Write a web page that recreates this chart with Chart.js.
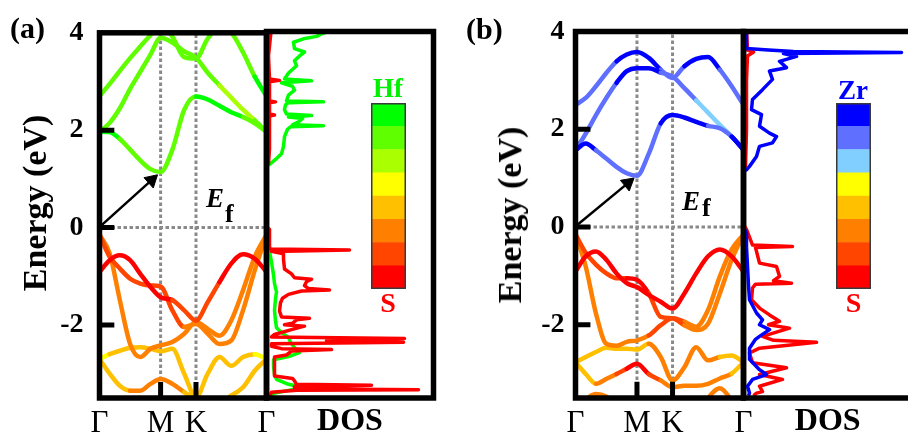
<!DOCTYPE html>
<html>

<head>
    <meta charset="UTF-8">
    <title>HfS2 / ZrS2 band structure and DOS</title>
    <script src="https://cdn.jsdelivr.net/npm/chart.js"></script>
    <style>
        body {
            margin: 0;
            width: 908px;
            height: 437px;
            overflow: hidden;
            position: relative;
            background: #ffffff;
            font-family: 'Liberation Serif', 'Times New Roman', serif;
        }

        canvas {
            position: absolute;
        }

        .lbl {
            position: absolute;
            font-weight: bold;
            line-height: 1;
            white-space: nowrap;
            color: #000;
        }

        .ytitle {
            font-size: 34px;
            transform: translate(-50%, -50%) rotate(-90deg);
        }

        .cb {
            width: 60px;
            text-align: center;
            font-size: 27px;
        }
    </style>
</head>

<body>
    <canvas id="bandA" width="290" height="437" style="left:0;top:0"></canvas>
    <canvas id="dosA" width="175" height="437" style="left:262px;top:0"></canvas>
    <canvas id="barA" width="35" height="186" style="left:371px;top:103px"></canvas>
    <canvas id="bandB" width="300" height="437" style="left:460px;top:0"></canvas>
    <canvas id="dosB" width="180" height="437" style="left:739px;top:0"></canvas>
    <canvas id="barB" width="35" height="186" style="left:836px;top:103px"></canvas>

    <div class="lbl" style="left:10px;top:13px;font-size:30px">(a)</div>
    <div class="lbl" style="left:466px;top:14px;font-size:30px">(b)</div>
    <div class="lbl ytitle" style="left:35px;top:202.5px">Energy (eV)</div>
    <div class="lbl ytitle" style="left:510px;top:215px">Energy (eV)</div>

    <div class="lbl" style="left:206px;top:184.5px;font-size:27px;font-style:italic">E</div>
    <div class="lbl" style="left:225px;top:201px;font-size:26px">f</div>
    <div class="lbl" style="left:682px;top:187.5px;font-size:27px;font-style:italic">E</div>
    <div class="lbl" style="left:702px;top:195px;font-size:26px">f</div>

    <div class="lbl cb" style="left:358px;top:75px;color:#00f000">Hf</div>
    <div class="lbl cb" style="left:358px;top:289px;color:#ff0000;font-size:28px">S</div>
    <div class="lbl cb" style="left:823px;top:77px;color:#0000ff">Zr</div>
    <div class="lbl cb" style="left:823.5px;top:289px;color:#ff0000;font-size:28px">S</div>

    <script>
        // ---- k-path and axes ----
        var kPath = [0, 0.096, 0.192, 0.289, 0.385, 0.481, 0.577, 0.688, 0.800, 0.911, 1.022, 1.133, 1.244, 1.355, 1.466, 1.577];
        var kTicks = [0, 0.577, 0.911, 1.577];
        var kLabels = ['Γ', 'M', 'K', 'Γ'];
        var energyTicks = [4, 2, 0, -2];
        var eMin = -3.5, eMax = 4;

        // colour levels: 0 = S ... 7 = metal (Hf / Zr)
        var hfPalette = ['#ff0000', '#ff4500', '#ff8000', '#ffc000', '#ffff00', '#aaff00', '#5fff00', '#00ff00'];
        var zrPalette = ['#ff0000', '#ff4500', '#ff8000', '#ffc000', '#ffff00', '#80cfff', '#5f6fff', '#0000ff'];

        // ---- HfS2 bands (eV) and projection levels ----
        var hfC1 = [1.97, 1.96, 1.82, 1.60, 1.38, 1.20, 1.14, 1.60, 2.42, 2.69, 2.63, 2.50, 2.37, 2.27, 2.14, 1.97];
        var hfC1w = [7, 7, 6, 6, 6, 6, 6, 6, 6, 7, 7, 7, 7, 6, 6, 6];
        var hfC2 = [1.97, 2.15, 2.45, 2.85, 3.20, 3.55, 3.90, 3.80, 3.62, 3.49, 3.18, 2.92, 2.67, 2.42, 2.20, 1.97];
        var hfC2w = [6, 6, 6, 6, 6, 6, 6, 6, 6, 6, 6, 5, 5, 5, 6, 6];
        var hfC3 = [2.70, 2.95, 3.22, 3.48, 3.72, 3.95, 4.15, 3.92, 3.50, 3.47, 3.88, 4.10, 4.00, 3.60, 3.10, 2.70];
        var hfC3w = [6, 6, 6, 6, 6, 6, 6, 6, 6, 6, 6, 6, 6, 6, 7, 7];
        var hfV1 = [-0.91, -0.67, -0.57, -0.67, -0.95, -1.22, -1.43, -1.49, -1.70, -1.91, -1.53, -1.12, -0.74, -0.55, -0.64, -0.91];
        var hfV1w = [0, 0, 0, 0, 0, 0, 0, 1, 1, 1, 1, 0, 0, 0, 0, 0];
        var hfV2 = [-0.15, -0.60, -0.84, -1.05, -1.15, -1.19, -1.21, -1.70, -2.04, -1.98, -2.18, -2.39, -2.32, -1.70, -0.88, -0.15];
        var hfV2w = [1, 1, 1, 1, 1, 1, 1, 1, 2, 2, 2, 2, 2, 2, 2, 2];
        var hfV3 = [-0.15, -0.53, -1.49, -2.39, -2.66, -2.49, -2.42, -2.35, -2.18, -1.94, -2.08, -2.22, -1.91, -1.29, -0.60, -0.15];
        var hfV3w = [2, 2, 2, 2, 2, 2, 2, 2, 2, 2, 2, 2, 2, 2, 2, 2];
        var hfV4 = [-2.70, -2.60, -2.53, -2.47, -2.46, -2.49, -2.54, -2.49, -3.00, -3.49, -3.00, -2.66, -2.84, -2.66, -2.60, -2.70];
        var hfV4w = [4, 3, 3, 3, 3, 3, 3, 3, 3, 3, 3, 3, 3, 3, 4, 4];
        var hfV5 = [-2.70, -3.00, -3.25, -3.35, -3.35, -3.21, -3.11, -3.21, -3.38, -3.52, -3.56, -3.56, -3.45, -3.28, -2.94, -2.70];
        var hfV5w = [3, 3, 3, 2, 2, 2, 2, 2, 3, 3, 3, 3, 3, 3, 3, 4];

        // ---- ZrS2 bands (eV) and projection levels ----
        var zrC1 = [1.57, 1.71, 1.57, 1.40, 1.23, 1.10, 1.05, 1.50, 2.12, 2.29, 2.24, 2.15, 2.07, 2.02, 1.85, 1.58];
        var zrC1w = [7, 7, 6, 6, 6, 6, 6, 6, 7, 7, 7, 7, 6, 6, 7, 7];
        var zrC2 = [1.57, 1.91, 2.29, 2.64, 2.95, 3.19, 3.25, 3.25, 3.16, 3.08, 2.84, 2.59, 2.34, 2.09, 1.85, 1.58];
        var zrC2w = [6, 6, 6, 6, 7, 7, 7, 7, 6, 6, 6, 5, 5, 5, 7, 7];
        var zrC3 = [2.50, 2.64, 2.88, 3.15, 3.39, 3.53, 3.58, 3.46, 3.22, 3.05, 3.29, 3.44, 3.48, 3.22, 2.88, 2.50];
        var zrC3w = [6, 6, 6, 6, 7, 7, 7, 7, 6, 6, 7, 7, 7, 6, 6, 6];
        var zrV1 = [-0.91, -0.60, -0.50, -0.67, -0.95, -1.15, -1.23, -1.39, -1.53, -1.67, -1.36, -0.95, -0.60, -0.46, -0.60, -0.91];
        var zrV1w = [0, 0, 0, 0, 0, 0, 0, 0, 0, 0, 0, 0, 0, 0, 0, 0];
        var zrV2 = [-0.15, -0.53, -0.77, -0.95, -1.05, -1.05, -1.08, -1.36, -1.84, -1.87, -2.01, -2.11, -1.98, -1.36, -0.67, -0.15];
        var zrV2w = [1, 1, 1, 1, 1, 0, 0, 1, 1, 1, 2, 2, 2, 2, 2, 2];
        var zrV3 = [-0.15, -0.81, -1.77, -2.39, -2.43, -2.35, -2.32, -2.22, -2.01, -1.87, -1.94, -2.04, -1.70, -1.01, -0.46, -0.15];
        var zrV3w = [2, 2, 2, 2, 2, 2, 2, 1, 1, 1, 2, 2, 2, 2, 2, 2];
        var zrV4 = [-2.77, -2.66, -2.56, -2.47, -2.49, -2.49, -2.51, -2.39, -2.66, -3.14, -2.87, -2.46, -2.73, -2.66, -2.63, -2.77];
        var zrV4w = [3, 3, 3, 3, 3, 3, 3, 2, 2, 2, 2, 2, 2, 3, 3, 3];
        var zrV5 = [-2.77, -3.01, -3.21, -3.11, -3.01, -2.90, -2.80, -3.01, -3.14, -3.28, -3.25, -3.25, -3.21, -3.10, -3.00, -2.77];
        var zrV5w = [3, 3, 2, 2, 1, 0, 0, 1, 2, 2, 2, 2, 2, 2, 3, 3];
        var zrV6 = [-3.90, -3.55, -3.42, -3.47, -3.65, -3.90, -4.00, -4.00, -4.00, -3.95, -3.90, -3.90, -3.50, -3.30, -3.55, -3.90];
        var zrV6w = [2, 2, 2, 2, 2, 2, 2, 2, 2, 2, 2, 2, 2, 2, 2, 2];

        // ---- projected DOS, [energy eV, DOS arb. units] ----
        var hfDosHf = [[-3.47, 3], [-3.40, 8], [-3.32, 28], [-3.27, 33], [-3.22, 22], [-3.12, 10], [-3.02, 8], [-2.85, 7],
            [-2.72, 7], [-2.64, 24], [-2.57, 33], [-2.47, 28], [-2.36, 24], [-2.26, 22], [-2.16, 15], [-2.06, 10],
            [-1.92, 9], [-1.70, 8], [-1.47, 9], [-1.33, 10], [-1.16, 8], [-0.98, 7], [-0.72, 5], [-0.50, 3], [-0.20, 1],
            [0.0, 0], [1.22, 0], [1.28, 3], [1.40, 10], [1.50, 15], [1.65, 17], [1.85, 18], [2.00, 21], [2.05, 24],
            [2.07, 57], [2.09, 26], [2.15, 32], [2.22, 36], [2.25, 22], [2.28, 45], [2.31, 20], [2.40, 18], [2.50, 19],
            [2.54, 22], [2.56, 57], [2.58, 20], [2.70, 22], [2.80, 28], [2.88, 26], [2.95, 15], [2.99, 45], [3.03, 18],
            [3.15, 22], [3.30, 30], [3.40, 28], [3.50, 33], [3.58, 38], [3.65, 28], [3.78, 27], [3.85, 37], [3.90, 50],
            [3.95, 55], [4.05, 70]];
        var hfDosS = [[-3.47, 3], [-3.38, 5], [-3.34, 30], [-3.33, 152], [-3.31, 28], [-3.27, 28], [-3.24, 105], [-3.22, 30],
            [-3.15, 28], [-3.10, 26], [-3.05, 8], [-2.95, 8], [-2.75, 8], [-2.66, 8], [-2.62, 20], [-2.54, 25],
            [-2.51, 65], [-2.49, 15], [-2.44, 5], [-2.39, 5], [-2.36, 137], [-2.33, 60], [-2.28, 138], [-2.25, 5],
            [-2.20, 8], [-2.10, 25], [-2.03, 38], [-2.00, 18], [-1.97, 26], [-1.90, 30], [-1.87, 43], [-1.84, 15],
            [-1.72, 13], [-1.55, 14], [-1.46, 16], [-1.38, 22], [-1.31, 35], [-1.29, 63], [-1.26, 42], [-1.20, 38],
            [-1.12, 40], [-1.07, 45], [-1.04, 28], [-0.96, 25], [-0.86, 18], [-0.66, 17], [-0.55, 17], [-0.50, 5],
            [-0.47, 83], [-0.45, 4], [-0.42, 3], [-0.25, 3], [-0.05, 3], [0.0, 0], [1.22, 0], [1.30, 2], [1.60, 3],
            [2.00, 3], [2.27, 3], [2.29, 8], [2.31, 3], [2.54, 3], [2.56, 9], [2.58, 3], [2.97, 3], [3.00, 13],
            [3.03, 3], [3.50, 2], [3.90, 4], [4.05, 5]];
        var zrDosZr = [[-3.45, 5], [-3.40, 6], [-3.26, 4], [-3.12, 9], [-3.02, 23], [-2.92, 16], [-2.71, 6], [-2.48, 6],
            [-2.30, 12], [-2.24, 16], [-2.10, 26], [-2.00, 16], [-1.90, 19], [-1.76, 13], [-1.49, 6], [-1.20, 5],
            [-0.80, 4], [-0.40, 3], [-0.12, 3], [0.0, 0], [1.15, 0], [1.17, 3], [1.24, 6], [1.44, 13], [1.65, 16],
            [1.72, 29], [1.85, 33], [1.92, 26], [2.06, 16], [2.30, 18], [2.40, 8], [2.61, 9], [2.81, 19], [3.02, 29],
            [3.19, 26], [3.26, 43], [3.39, 36], [3.49, 53], [3.55, 40], [3.57, 158], [3.59, 50], [3.62, 25],
            [3.65, 3], [4.05, 3]];
        var zrDosS = [[-3.45, 10], [-3.40, 13], [-3.37, 19], [-3.26, 16], [-3.12, 39], [-3.02, 16], [-2.88, 43], [-2.78, 9],
            [-2.58, 6], [-2.48, 16], [-2.36, 73], [-2.32, 30], [-2.24, 19], [-2.07, 46], [-2.00, 25], [-1.93, 36],
            [-1.80, 26], [-1.66, 16], [-1.49, 8], [-1.25, 9], [-1.17, 12], [-1.15, 48], [-1.10, 30], [-1.01, 36],
            [-0.81, 33], [-0.74, 16], [-0.50, 13], [-0.42, 12], [-0.40, 49], [-0.37, 9], [-0.05, 3], [0.05, 0],
            [1.15, 0], [1.20, 2], [2.00, 3], [3.00, 3], [3.50, 4], [3.58, 10], [3.62, 4], [4.05, 3]];

        // ---- helpers ----
        var serif = "'Liberation Serif', 'Times New Roman', serif";

        var frame = {
            id: 'frame',
            afterDatasetsDraw: function (chart) {
                var a = chart.chartArea, c = chart.ctx;
                c.save();
                c.lineWidth = 5.5;
                c.strokeStyle = '#000';
                c.strokeRect(a.left, a.top, a.right - a.left, a.bottom - a.top);
                c.restore();
            }
        };

        function band(ys, levels, palette) {
            return {
                data: ys.map(function (e, i) { return { x: kPath[i], y: e }; }),
                borderColor: palette[levels[0]],
                segment: { borderColor: function (ctx) { return palette[levels[ctx.p0DataIndex]]; } },
                borderWidth: 4.5,
                borderCapStyle: 'round',
                borderJoinStyle: 'round',
                cubicInterpolationMode: 'monotone',
                pointRadius: 0,
                order: 2
            };
        }

        function guide(pts) {
            return { data: pts, borderColor: '#8a8a8a', borderWidth: 3, borderDash: [3.5, 2.5], pointRadius: 0, order: 3 };
        }

        function tick(pts) {
            return { data: pts, borderColor: '#000', borderWidth: 5, pointRadius: 0, order: 1 };
        }

        function bandChart(id, bands, palette, cbm, rot, axisWidth, tickPad, padRight) {
            var kMax = kPath[kPath.length - 1];
            var sets = bands.map(function (b) { return band(b[0], b[1], palette); });
            sets.push(guide([{ x: kTicks[1], y: eMin }, { x: kTicks[1], y: eMax }]));
            sets.push(guide([{ x: kTicks[2], y: eMin }, { x: kTicks[2], y: eMax }]));
            sets.push(guide([{ x: 0, y: 0 }, { x: kMax, y: 0 }]));
            energyTicks.slice(1).forEach(function (e) {
                sets.push(tick([{ x: 0, y: e }, { x: 0.14, y: e }]));
            });
            [kTicks[1], kTicks[2]].forEach(function (k) {
                sets.push(tick([{ x: k, y: eMin }, { x: k, y: eMin + 0.33 }]));
            });
            // arrow from the valence band top at Γ to the conduction band bottom near M
            var tail = { x: 0.01, y: 0.03 };
            var f = 0.85;
            sets.push({
                data: [tail, { x: tail.x + f * (cbm[0] - tail.x), y: tail.y + f * (cbm[1] - tail.y) }],
                borderColor: '#000',
                borderWidth: 2.5,
                pointRadius: [0, 8],
                pointStyle: 'triangle',
                pointRotation: [0, rot],
                pointBackgroundColor: '#000',
                pointBorderColor: '#000',
                pointBorderWidth: 1,
                order: 0
            });

            return new Chart(document.getElementById(id), {
                type: 'line',
                data: { datasets: sets },
                options: {
                    responsive: false,
                    animation: false,
                    devicePixelRatio: 1,
                    layout: { padding: { left: 0, top: 31.5, right: padRight, bottom: 0 } },
                    plugins: { legend: { display: false }, tooltip: { enabled: false } },
                    scales: {
                        x: {
                            type: 'linear',
                            min: 0,
                            max: kMax,
                            afterBuildTicks: function (s) { s.ticks = kTicks.map(function (v) { return { value: v }; }); },
                            afterFit: function (s) { s.height = 39; },
                            grid: { display: false, drawTicks: false },
                            border: { display: false },
                            ticks: {
                                autoSkip: false,
                                maxRotation: 0,
                                padding: 7,
                                color: '#000',
                                font: { family: serif, size: 31 },
                                callback: function (v, i) { return kLabels[i]; }
                            }
                        },
                        y: {
                            type: 'linear',
                            min: eMin,
                            max: eMax,
                            afterBuildTicks: function (s) { s.ticks = energyTicks.map(function (v) { return { value: v }; }); },
                            afterFit: function (s) { s.width = axisWidth; },
                            grid: { display: false, drawTicks: false },
                            border: { display: false },
                            ticks: {
                                padding: tickPad,
                                color: '#000',
                                font: { family: serif, size: 28, weight: 'bold' },
                                callback: function (v) { return String(v); }
                            }
                        }
                    }
                },
                plugins: [frame]
            });
        }

        function dosChart(id, curves, dMax, padLeft, padRight) {
            var sets = curves.map(function (c) {
                return {
                    data: c[0].map(function (p) { return { x: p[1], y: p[0] }; }),
                    borderColor: c[1],
                    borderWidth: 3.5,
                    borderJoinStyle: 'round',
                    pointRadius: 0,
                    order: c[2]
                };
            });
            return new Chart(document.getElementById(id), {
                type: 'line',
                data: { datasets: sets },
                options: {
                    responsive: false,
                    animation: false,
                    devicePixelRatio: 1,
                    layout: { padding: { left: padLeft, top: 31.5, right: padRight, bottom: 0 } },
                    plugins: { legend: { display: false }, tooltip: { enabled: false } },
                    scales: {
                        x: {
                            type: 'linear',
                            min: 0,
                            max: dMax,
                            afterFit: function (s) { s.height = 39; },
                            grid: { display: false, drawTicks: false },
                            border: { display: false },
                            ticks: { display: false },
                            title: {
                                display: true,
                                text: 'DOS',
                                color: '#000',
                                padding: { top: 0, bottom: -4 },
                                font: { family: serif, size: 32, weight: 'bold' }
                            }
                        },
                        y: { type: 'linear', display: false, min: eMin, max: eMax }
                    }
                },
                plugins: [frame]
            });
        }

        function colorBar(id, palette) {
            return new Chart(document.getElementById(id), {
                type: 'bar',
                data: {
                    labels: [''],
                    datasets: palette.map(function (c) {
                        return { data: [1], backgroundColor: c, borderWidth: 0, barPercentage: 1, categoryPercentage: 1 };
                    })
                },
                options: {
                    responsive: false,
                    animation: false,
                    devicePixelRatio: 1,
                    layout: { padding: 0 },
                    plugins: { legend: { display: false }, tooltip: { enabled: false } },
                    scales: {
                        x: { stacked: true, display: false },
                        y: { stacked: true, display: false, min: 0, max: palette.length }
                    }
                },
                plugins: [{
                    id: 'outline',
                    afterDraw: function (chart) {
                        var a = chart.chartArea, c = chart.ctx;
                        c.save();
                        c.lineWidth = 1.5;
                        c.strokeStyle = '#3a3a3a';
                        c.strokeRect(a.left + 0.75, a.top + 0.75, a.right - a.left - 1.5, a.bottom - a.top - 1.5);
                        c.restore();
                    }
                }]
            });
        }

        // ---- panel (a): HfS2 ----
        bandChart('bandA', [
            [hfC1, hfC1w], [hfC2, hfC2w], [hfC3, hfC3w],
            [hfV1, hfV1w], [hfV2, hfV2w], [hfV3, hfV3w], [hfV4, hfV4w], [hfV5, hfV5w]
        ], hfPalette, [kTicks[1], Math.min.apply(null, hfC1)], 48, 99.5, 16, 23.5);
        dosChart('dosA', [[hfDosHf, '#00ff00', 2], [hfDosS, '#ff0000', 1]], 167, 4.5, 3.5);
        colorBar('barA', hfPalette);

        // ---- panel (b): ZrS2 ----
        bandChart('bandB', [
            [zrC1, zrC1w], [zrC2, zrC2w], [zrC3, zrC3w],
            [zrV1, zrV1w], [zrV2, zrV2w], [zrV3, zrV3w], [zrV4, zrV4w], [zrV5, zrV5w], [zrV6, zrV6w]
        ], zrPalette, [kTicks[1], Math.min.apply(null, zrC1)], 50.5, 115.5, 11, 16.5);
        dosChart('dosB', [[zrDosS, '#ff0000', 2], [zrDosZr, '#0000ff', 1]], 168.5, 4.5, 7);
        colorBar('barB', zrPalette);
    </script>
</body>

</html>
